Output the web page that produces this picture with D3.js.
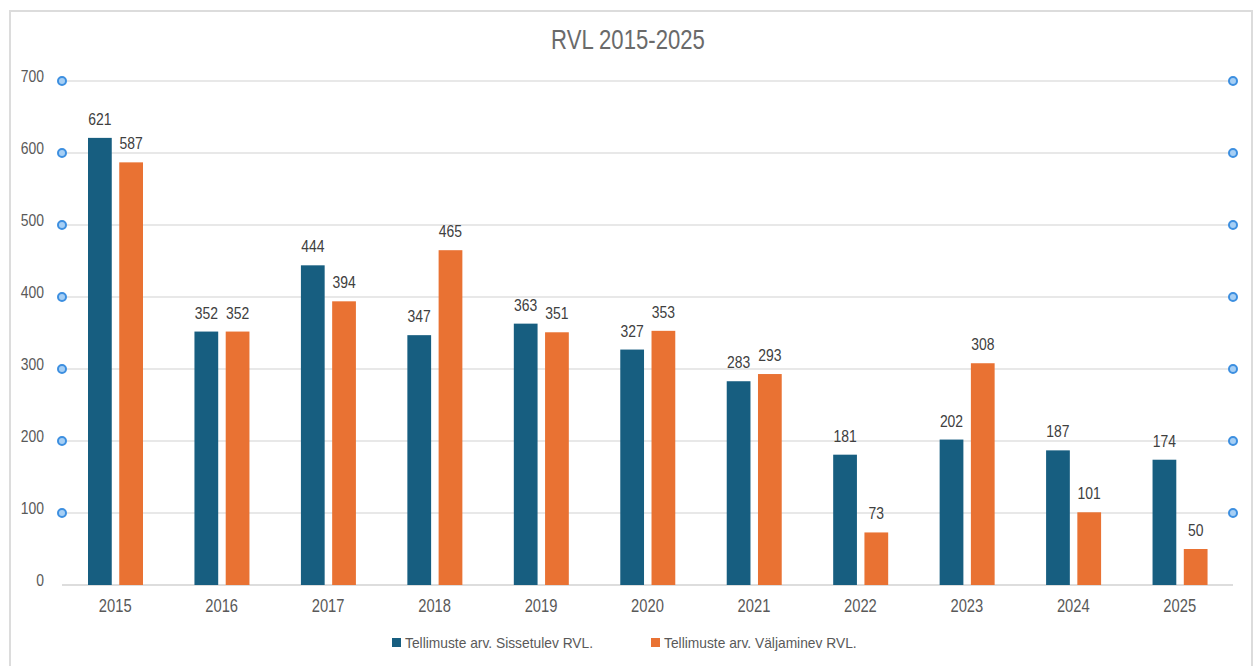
<!DOCTYPE html>
<html lang="et">
<head>
<meta charset="utf-8">
<title>RVL 2015-2025</title>
<script src="https://cdn.jsdelivr.net/npm/d3@7"></script>
<style>
  body { margin: 0; background: #fff; }
  svg text { font-family: "Liberation Sans", Arial, sans-serif; }
  .grid line { stroke: #e0e0e0; stroke-width: 1.5px; }
  .handle { fill: #a6cff5; stroke: #3d8fe0; stroke-width: 2px; }
</style>
</head>
<body>
<svg width="1255" height="666"></svg>
<script>
var years = ["2015", "2016", "2017", "2018", "2019", "2020", "2021", "2022", "2023", "2024", "2025"];
var incoming = [621, 352, 444, 347, 363, 327, 283, 181, 202, 187, 174];
var outgoing = [587, 352, 394, 465, 351, 353, 293, 73, 308, 101, 50];
var seriesNames = ["Tellimuste arv. Sissetulev RVL.", "Tellimuste arv. Väljaminev RVL."];
var colors = ["#175e80", "#e97233"];
var yTicks = [0, 100, 200, 300, 400, 500, 600, 700];

var svg = d3.select("svg");
var sx = 0.82; // narrow font look: squeeze text horizontally

// outer frame
svg.append("rect")
  .attr("x", 10).attr("y", 11)
  .attr("width", 1242).attr("height", 660)
  .attr("fill", "#fff")
  .attr("stroke", "#dcdcdc")
  .attr("stroke-width", 2);

var x0 = d3.scaleBand().domain(years).range([62, 1233]);
var x1 = d3.scaleBand().domain([0, 1]).range([26, 81]).paddingInner(0.24);
var y = d3.scaleLinear().domain([0, 700]).range([585, 81]);

// gridlines
svg.append("g").attr("class", "grid")
  .selectAll("line")
  .data(yTicks)
  .enter().append("line")
  .attr("x1", 62).attr("x2", 1233)
  .attr("y1", function(d) { return y(d); })
  .attr("y2", function(d) { return y(d); })
  .style("stroke", function(d) { return d === 0 ? "#d2d2d2" : null; });

// bars
[incoming, outgoing].forEach(function(vals, s) {
  svg.append("g")
    .selectAll("rect")
    .data(years)
    .enter().append("rect")
    .attr("x", function(d) { return x0(d) + x1(s); })
    .attr("width", x1.bandwidth())
    .attr("y", function(d, i) { return y(vals[i]); })
    .attr("height", function(d, i) { return y(0) - y(vals[i]); })
    .attr("fill", colors[s]);
});

// all text goes into a horizontally squeezed layer
var txt = svg.append("g").attr("transform", "scale(" + sx + ",1)");
function nx(v) { return v / sx; }

// y labels
txt.append("g")
  .selectAll("text")
  .data(yTicks)
  .enter().append("text")
  .attr("x", nx(44))
  .attr("y", function(d) { return y(d) + 1; })
  .attr("text-anchor", "end")
  .attr("fill", "#595959")
  .attr("font-size", 17)
  .text(function(d) { return d; });

// value labels
[incoming, outgoing].forEach(function(vals, s) {
  txt.append("g")
    .selectAll("text")
    .data(years)
    .enter().append("text")
    .attr("x", function(d) { return nx(x0(d) + x1(s) + x1.bandwidth() / 2); })
    .attr("y", function(d, i) { return y(vals[i]) - 13; })
    .attr("text-anchor", "middle")
    .attr("fill", "#404040")
    .attr("font-size", 17)
    .text(function(d, i) { return vals[i]; });
});

// x labels
txt.append("g")
  .selectAll("text")
  .data(years)
  .enter().append("text")
  .attr("x", function(d) { return nx(x0(d) + x0.bandwidth() / 2); })
  .attr("y", 612)
  .attr("text-anchor", "middle")
  .attr("fill", "#595959")
  .attr("font-size", 18)
  .text(function(d) { return d; });

// title
txt.append("text")
  .attr("x", nx(628)).attr("y", 49)
  .attr("text-anchor", "middle")
  .attr("fill", "#6a6a6a")
  .attr("font-size", 27)
  .text("RVL 2015-2025");

// legend (slightly wider text than the rest)
var lsx = 0.92;
var legendX = [392, 651];
var leg = svg.append("g").attr("transform", "scale(" + lsx + ",1)");
seriesNames.forEach(function(name, i) {
  svg.append("rect")
    .attr("x", legendX[i]).attr("y", 638)
    .attr("width", 9).attr("height", 9)
    .attr("fill", colors[i]);
  leg.append("text")
    .attr("x", (legendX[i] + 13) / lsx).attr("y", 648)
    .attr("fill", "#595959")
    .attr("font-size", 15)
    .text(name);
});

// selection handles on gridline ends
var handles = svg.append("g");
yTicks.filter(function(d) { return d > 0; }).forEach(function(t) {
  [62, 1233].forEach(function(hx) {
    handles.append("circle").attr("class", "handle")
      .attr("cx", hx).attr("cy", y(t)).attr("r", 4);
  });
});
</script>
</body>
</html>
